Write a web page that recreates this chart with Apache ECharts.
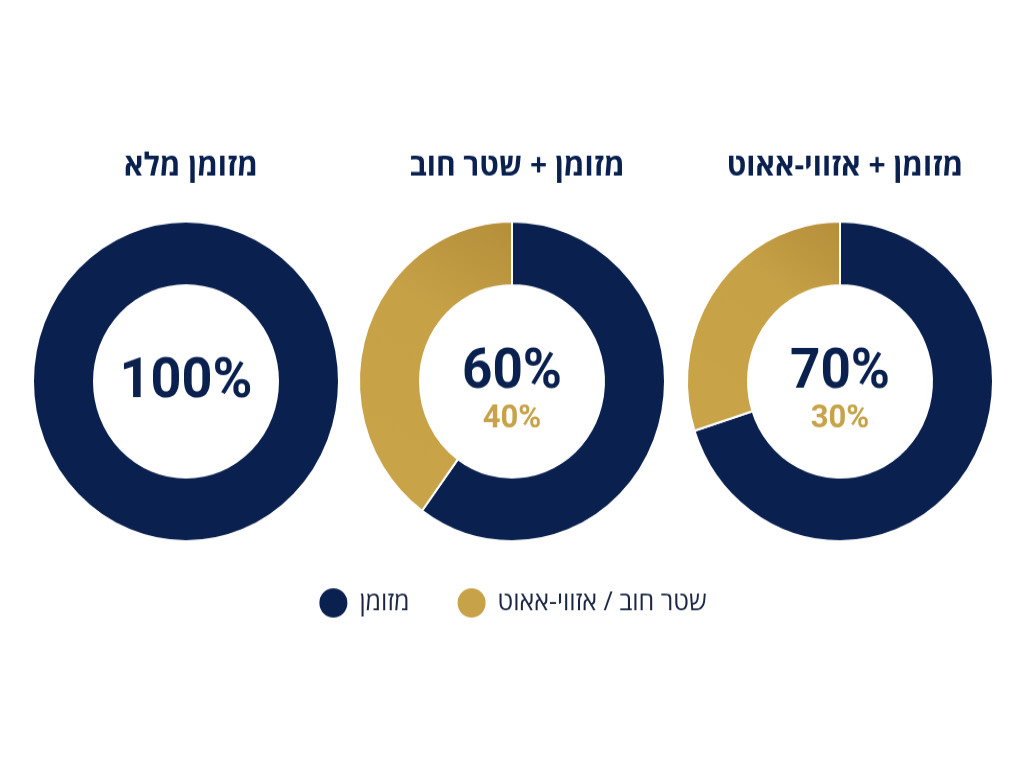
<!DOCTYPE html>
<html lang="he">
<head>
<meta charset="utf-8">
<title>מזומן / שטר חוב / אזווי-אאוט</title>
<script src="https://cdn.jsdelivr.net/npm/echarts@6/dist/echarts.min.js"></script>
<style>
    html, body { margin: 0; padding: 0; background: #fff; overflow: hidden; }
    /* the reference is a little taller than wide, so stretch the canvas to 768 */
    #main { width: 1024px; height: 735px; transform: scaleY(1.0449); transform-origin: 0 0; }
</style>
</head>
<body>
<div id="main"></div>
<script>
'use strict';

// data
var titles = ['מזומן מלא', 'מזומן + שטר חוב', 'מזומן + אזווי-אאוט'];
var seriesNames = ['מזומן', 'שטר חוב / אזווי-אאוט'];
var cashShare = [100, 60, 70];
var otherShare = [0, 40, 30];

var centersX = [186, 512, 840];
var centerY = 365;

var NAVY = '#0a2150';
var GOLD = '#c8a248';
var goldFill = new echarts.graphic.LinearGradient(0, 1, 1, 0, [
    {offset: 0, color: '#c9a449'},
    {offset: 0.65, color: '#c7a146'},
    {offset: 1, color: '#b48e3a'}
]);

var chart = echarts.init(document.getElementById('main'));

var titleList = [];
var series = [];
for (var i = 0; i < titles.length; i++) {
    titleList.push({
        text: titles[i],
        left: centersX[i],
        top: 139,
        textAlign: 'center',
        textStyle: {
            fontFamily: '"Open Sans", "DejaVu Sans", sans-serif',
            fontSize: 30,
            fontWeight: 'bold',
            color: NAVY
        }
    });

    var centerText = otherShare[i] > 0
        ? '{a|' + cashShare[i] + '%}\n{b|' + otherShare[i] + '%}'
        : '{c|' + cashShare[i] + '%}';

    var data = [{
        name: seriesNames[0],
        value: cashShare[i],
        itemStyle: {color: NAVY},
        label: {show: true}
    }];
    if (otherShare[i] > 0) {
        data.push({
            name: seriesNames[1],
            value: otherShare[i],
            itemStyle: {color: goldFill},
            label: {show: false}
        });
    }

    series.push({
        type: 'pie',
        name: titles[i],
        center: [centersX[i], centerY],
        radius: [92, 153],
        startAngle: 90,
        clockwise: true,
        avoidLabelOverlap: false,
        silent: true,
        itemStyle: {borderColor: '#ffffff', borderWidth: 2},
        label: {
            show: false,
            position: 'center',
            formatter: centerText,
            rich: {
                a: {fontFamily: 'Roboto, sans-serif', fontSize: 53, fontWeight: 'bold', color: NAVY, lineHeight: 73},
                b: {fontFamily: 'Roboto, sans-serif', fontSize: 31, fontWeight: 'bold', color: GOLD, lineHeight: 14},
                c: {fontFamily: 'Roboto, sans-serif', fontSize: 54, fontWeight: 'bold', color: NAVY, lineHeight: 60, padding: [3, 0, 0, 0]}
            }
        },
        labelLine: {show: false},
        emphasis: {disabled: true},
        data: data
    });
}

chart.setOption({
    backgroundColor: '#ffffff',
    animation: false,
    title: titleList,
    color: [NAVY, GOLD],
    legend: {
        data: [
            {name: seriesNames[0], itemStyle: {color: NAVY}},
            {name: seriesNames[1], itemStyle: {color: GOLD}}
        ],
        left: 'center',
        top: 556,
        icon: 'circle',
        itemWidth: 30,
        itemHeight: 30,
        itemGap: 46,
        selectedMode: false,
        textStyle: {
            fontFamily: '"Open Sans", "DejaVu Sans", sans-serif',
            fontSize: 25,
            color: '#1b2544',
            padding: [0, 0, 0, 6]
        }
    },
    series: series
});
</script>
</body>
</html>
